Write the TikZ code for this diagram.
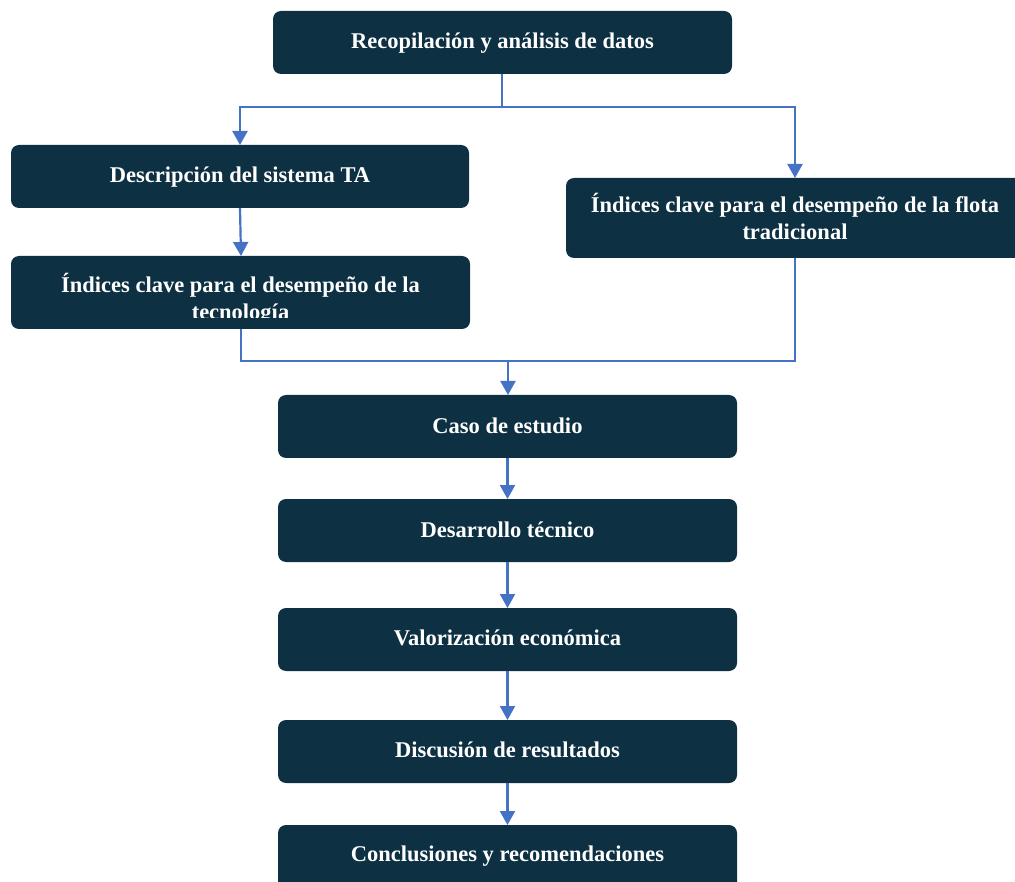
\documentclass[tikz,border=0pt]{standalone}
\usepackage{fontspec}
\setmainfont{Liberation Serif}
\usetikzlibrary{arrows.meta}
\definecolor{boxfill}{HTML}{0D3042}
\definecolor{linkblue}{HTML}{4472C4}
\tikzset{
  stepbox/.style={fill=boxfill, rounded corners=8pt, draw=none},
  boxtext/.style={text=white, font=\fontsize{22.5}{27}\selectfont\bfseries, align=center, inner sep=0pt},
  link/.style={draw=linkblue, line width=2.2pt, -{Triangle[width=15pt,length=14pt]}},
  plainlink/.style={draw=linkblue, line width=2.2pt},
}
\begin{document}
\begin{tikzpicture}[x=1pt,y=-1pt]
\useasboundingbox (0,0) rectangle (1015,882);
\clip (0,0) rectangle (1015,882);
% boxes
\path[stepbox] (273,11) rectangle (732,74);
\node[boxtext] (recop) at (502.5,43) {Recopilación y análisis de datos};
\path[stepbox] (11,145) rectangle (469,208);
\node[boxtext] (desc) at (240,177) {Descripción del sistema TA};
\path[stepbox] (11,256) rectangle (470,329);
\begin{scope}
\clip (11,256) rectangle (470,318);
\node[boxtext] (indtec) at (240.5,299) {Índices clave para el desempeño de la\\tecnología};
\end{scope}
\path[stepbox] (566,178) rectangle (1040,258);
\node[boxtext] (indflo) at (795,216) {Índices clave para el desempeño de la flota\\tradicional};
\path[stepbox] (278,395) rectangle (737,458);
\node[boxtext] (caso) at (507.5,426) {Caso de estudio};
\path[stepbox] (278,499) rectangle (737,562);
\node[boxtext] (desa) at (507.5,530) {Desarrollo técnico};
\path[stepbox] (278,608) rectangle (737,671);
\node[boxtext] (valo) at (507.5,638) {Valorización económica};
\path[stepbox] (278,720) rectangle (737,783);
\node[boxtext] (disc) at (507.5,750) {Discusión de resultados};
\path[stepbox] (278,825) rectangle (737,900);
\node[boxtext] (concl) at (507.5,856) {Conclusiones y recomendaciones};
% coordinates
\coordinate (rb) at (502,74);
\coordinate (split) at (502,107);
\coordinate (dtop) at (240,145);
\coordinate (ftop) at (795,178);
\coordinate (dbot) at (240,208);
\coordinate (ttop) at (241,256);
\coordinate (tbot) at (241,329);
\coordinate (fbot) at (795,258);
\coordinate (merge) at (508,361);
\coordinate (ctop) at (508,395);
% connectors
\draw[plainlink] (rb) -- (split);
\draw[link] (split) -| (dtop);
\draw[link] (split) -| (ftop);
\draw[link] (dbot) -- (ttop);
\draw[plainlink] (tbot) |- (merge);
\draw[plainlink] (fbot) |- (merge);
\draw[link] (merge) -- (ctop);
\draw[link] (507.5,458) coordinate (c1) -- (507.5,499) coordinate (c2);
\draw[link] (507.5,562) coordinate (c3) -- (507.5,608) coordinate (c4);
\draw[link] (507.5,671) coordinate (c5) -- (507.5,720) coordinate (c6);
\draw[link] (507.5,783) coordinate (c7) -- (507.5,825) coordinate (c8);
\end{tikzpicture}
\end{document}
